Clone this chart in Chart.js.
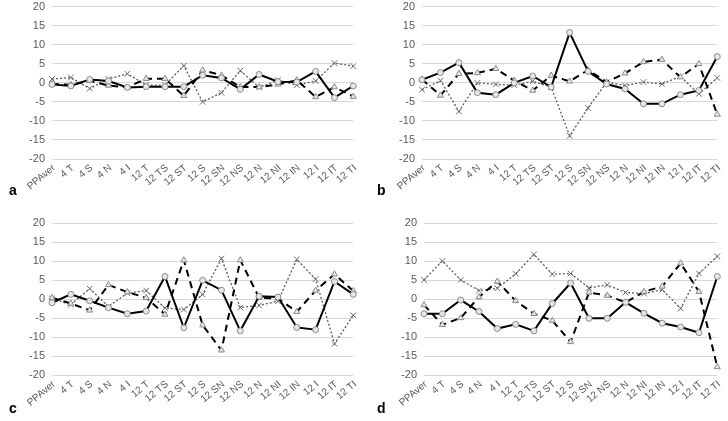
<!DOCTYPE html>
<html>
<head>
<meta charset="utf-8">
<script src="https://cdn.jsdelivr.net/npm/chart.js@4/dist/chart.umd.min.js"></script>
<style>
  html, body { margin: 0; padding: 0; background: #fff; }
  #wrap { position: relative; width: 728px; height: 421px; overflow: hidden; }
  canvas { position: absolute; }
  .lab { position: absolute; font: bold 14px "Liberation Sans", Arial, sans-serif; color: #000; }
</style>
</head>
<body>
<div id="wrap">
  <canvas id="ca" width="364" height="205" style="left:0;top:0"></canvas>
  <canvas id="cb" width="364" height="205" style="left:364px;top:0"></canvas>
  <canvas id="cc" width="364" height="216" style="left:0;top:205px"></canvas>
  <canvas id="cd" width="364" height="216" style="left:364px;top:205px"></canvas>
  <div class="lab" style="left:9px;top:182px">a</div>
  <div class="lab" style="left:377px;top:182px">b</div>
  <div class="lab" style="left:9px;top:400px">c</div>
  <div class="lab" style="left:377px;top:400px">d</div>
</div>
<script>
const categories = ['PPAver','4 T','4 S','4 N','4 I','12 T','12 TS','12 ST','12 S','12 SN','12 NS','12 N','12 NI','12 IN','12 I','12 IT','12 TI'];
const yTicks = [20, 15, 10, 5, 0, -5, -10, -15, -20];

const aSolid  = [-0.4,-0.8,0.9,0.5,-1.2,-1.0,-1.0,-1.0,2.0,1.3,-1.7,2.2,0.3,0.2,3.0,-3.9,-0.8];
const aDashed = [-0.3,-0.5,0.5,-0.7,-1.2,1.1,1.1,-3.4,3.3,2.0,-1.1,-1.1,-0.4,0.7,-3.7,-1.1,-3.6];
const aDotted = [1.0,1.4,-1.5,1.0,2.4,-0.6,-0.6,4.5,-5.0,-2.6,3.2,-1.2,0.7,-0.6,0.5,5.2,4.4];

const bSolid  = [0.8,2.7,5.3,-2.6,-3.1,0,1.8,-1.1,13.2,3.0,-0.3,-1.6,-5.5,-5.5,-3.1,-2.0,6.9];
const bDashed = [0.9,-3.3,2.4,2.6,3.7,0.6,-2.0,1.9,0.4,3.4,0.2,2.5,5.5,6.1,1.5,5.0,-8.3];
const bDotted = [-1.8,0.6,-7.5,0,-0.4,-0.6,0.4,-1.1,-13.9,-6.6,0.2,-0.7,0.2,-0.3,1.7,-2.9,1.3];

const cSolid  = [-0.9,1.3,-0.4,-2.2,-3.8,-3.1,6.0,-7.5,5.0,2.4,-8.3,0.8,0.6,-7.4,-8.0,4.7,1.3];
const cDashed = [0.4,-1.1,-2.9,3.8,1.9,0.4,-4.0,10.3,-6.8,-13.4,10.3,0.4,0.2,-3.3,2.3,6.6,2.2];
const cDotted = [0.2,-1.4,2.8,-1.9,1.6,2.3,-2.3,-2.7,1.3,10.7,-2.2,-1.6,-0.5,10.5,5.3,-11.7,-4.2];

const dSolid  = [-3.8,-3.8,-0.2,-3.2,-7.7,-6.6,-8.3,-1.1,4.3,-5.0,-5.0,-0.8,-3.7,-6.3,-7.3,-8.8,6.0];
const dDashed = [-1.5,-6.7,-4.9,0.6,4.7,-0.4,-3.8,-5.6,-11.2,1.8,1.0,-0.8,2.0,3.4,9.5,2.0,-17.8];
const dDotted = [5.1,10.1,5.1,2.3,2.9,6.7,11.8,6.6,6.8,3.0,3.8,1.8,1.5,2.5,-2.4,6.8,11.3];

const FONT = '"Liberation Sans", Arial, sans-serif';

function makeChart(id, solid, dashed, dotted, geo) {
  const st = { xh: 46, yw: geo.left };
  const chart = new Chart(document.getElementById(id), {
    type: 'line',
    data: {
      labels: categories,
      datasets: [
        { data: solid, borderColor: '#000', borderWidth: 2, pointStyle: 'circle', pointRadius: 3,
          pointBorderColor: '#8a8a8a', pointBackgroundColor: '#e6e6e6', pointBorderWidth: 1, tension: 0 },
        { data: dashed, borderColor: '#000', borderWidth: 2, borderDash: [7, 5], pointStyle: 'triangle', pointRadius: 3.5,
          pointBorderColor: '#8a8a8a', pointBackgroundColor: '#e6e6e6', pointBorderWidth: 1, tension: 0 },
        { data: dotted, borderColor: '#5a5a5a', borderWidth: 1.3, borderDash: [2, 2], pointStyle: 'crossRot', pointRadius: 4,
          pointBorderColor: '#6a6a6a', pointBorderWidth: 1, tension: 0 }
      ]
    },
    options: {
      responsive: false,
      animation: false,
      devicePixelRatio: 1,
      layout: { padding: { left: 0, top: geo.top, right: 364 - geo.right, bottom: 0 } },
      plugins: { legend: { display: false }, tooltip: { enabled: false } },
      scales: {
        x: {
          grid: { display: false, drawTicks: false },
          border: { display: false },
          ticks: { autoSkip: false, minRotation: 40, maxRotation: 40, padding: 3, labelOffset: 2,
                   color: '#595959', font: { family: FONT, size: 10 } },
          afterFit: s => { s.height = st.xh; }
        },
        y: {
          min: -20, max: 20,
          afterBuildTicks: s => { s.ticks = yTicks.map(v => ({ value: v })); },
          grid: { color: '#d9d9d9', lineWidth: 1, drawTicks: true, tickLength: 7, tickColor: 'rgba(0,0,0,0)' },
          border: { display: false },
          ticks: { padding: 0, color: '#595959', font: { family: FONT, size: 11 } },
          afterFit: s => { s.width = st.yw; }
        }
      }
    }
  });
  // nudge the layout so the plot area lands where the reference has it
  for (let i = 0; i < 3; i++) {
    const ca = chart.chartArea;
    const p = chart.options.layout.padding;
    p.top = Math.max(0, p.top + geo.top - ca.top);
    p.right += ca.right - geo.right;
    st.xh += ca.bottom - geo.bottom;
    st.yw += geo.left - ca.left;
    chart.update();
  }
}

makeChart('ca', aSolid, aDashed, aDotted, { left: 52, right: 354, top: 6.7, bottom: 159 });
makeChart('cb', bSolid, bDashed, bDotted, { left: 58, right: 362, top: 6.7, bottom: 159 });
makeChart('cc', cSolid, cDashed, cDotted, { left: 52, right: 355, top: 18.3, bottom: 170.3 });
makeChart('cd', dSolid, dDashed, dDotted, { left: 60, right: 362, top: 18.3, bottom: 170.3 });
</script>
</body>
</html>
